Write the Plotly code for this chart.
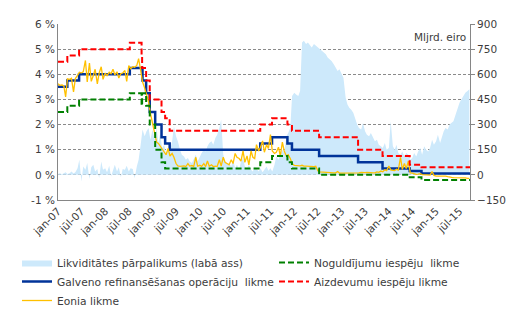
import pandas as pd
import plotly.graph_objects as go

# ---------------- data ----------------
# Policy rates (step series, %)
mro_dates = ["2007-01-01", "2007-03-14", "2007-06-13", "2008-07-09", "2008-10-15", "2008-11-12",
             "2008-12-10", "2009-01-21", "2009-03-11", "2009-04-08", "2009-05-13", "2011-04-13",
             "2011-07-13", "2011-11-09", "2011-12-14", "2012-07-11", "2013-05-08", "2013-11-13",
             "2014-06-11", "2014-09-10", "2015-09-20"]
mro_rate = [3.50, 3.75, 4.00, 4.25, 3.75, 3.25, 2.50, 2.00, 1.50, 1.25, 1.00, 1.25,
            1.50, 1.25, 1.00, 0.75, 0.50, 0.25, 0.15, 0.05, 0.05]

dep_dates = ["2007-01-01", "2007-03-14", "2007-06-13", "2008-07-09", "2008-10-08", "2008-10-12",
             "2008-11-12", "2008-12-10", "2009-01-21", "2009-03-11", "2009-04-08", "2011-04-13",
             "2011-07-13", "2011-11-09", "2011-12-14", "2012-07-11", "2014-06-11", "2014-09-10",
             "2015-09-20"]
dep_rate = [2.50, 2.75, 3.00, 3.25, 2.75, 3.25, 2.75, 2.00, 1.00, 0.50, 0.25, 0.50,
            0.75, 0.50, 0.25, 0.00, -0.10, -0.20, -0.20]

lend_dates = ["2007-01-01", "2007-03-14", "2007-06-13", "2008-07-09", "2008-10-08", "2008-10-12",
              "2008-11-12", "2008-12-10", "2009-03-11", "2009-04-08", "2009-05-13", "2011-04-13",
              "2011-07-13", "2011-11-09", "2011-12-14", "2012-07-11", "2013-05-08", "2013-11-13",
              "2014-06-11", "2014-09-10", "2015-09-20"]
lend_rate = [4.50, 4.75, 5.00, 5.25, 4.75, 4.25, 3.75, 3.00, 2.50, 2.25, 1.75, 2.00,
             2.25, 2.00, 1.75, 1.50, 1.00, 0.75, 0.40, 0.30, 0.30]

# Eonia (%), two readings per month from Jan 2007 to Sep 2015
eonia = [
    # 2007
    3.62, 3.56, 3.58, 3.54, 3.10, 3.82, 3.80, 3.84, 3.30, 3.83, 3.96, 4.08,
    4.06, 4.10, 4.55, 3.70, 4.45, 3.72, 3.95, 4.20, 3.62, 4.05, 4.30, 3.80,
    # 2008
    4.05, 3.95, 4.08, 4.02, 4.20, 3.98, 4.10, 3.85, 4.03, 4.05, 4.15, 3.72,
    4.35, 4.22, 4.30, 4.28, 4.35, 4.62, 4.15, 3.70, 3.45, 3.20, 2.90, 2.45,
    # 2009
    2.05, 1.80, 1.30, 1.25, 1.15, 1.05, 0.90, 0.80, 1.05, 0.75, 0.85, 0.70,
    0.45, 0.36, 0.34, 0.35, 0.36, 0.33, 0.45, 0.35, 0.37, 0.34, 0.70, 0.35,
    # 2010
    0.38, 0.34, 0.45, 0.33, 0.55, 0.34, 0.40, 0.33, 0.35, 0.33, 0.60, 0.35,
    0.70, 0.50, 0.45, 0.40, 0.60, 0.45, 0.85, 0.70, 0.65, 0.55, 0.95, 0.50,
    # 2011
    0.75, 0.40, 0.95, 0.70, 0.65, 1.20, 0.95, 1.10, 1.35, 0.90, 1.20, 1.05,
    1.60, 0.95, 0.85, 0.90, 1.10, 0.75, 1.30, 0.95, 0.75, 0.80, 0.65, 0.45,
    # 2012
    0.38, 0.37, 0.37, 0.36, 0.38, 0.35, 0.35, 0.34, 0.34, 0.33, 0.33, 0.34,
    0.16, 0.12, 0.11, 0.11, 0.10, 0.10, 0.09, 0.09, 0.08, 0.08, 0.13, 0.07,
    # 2013
    0.07, 0.07, 0.08, 0.07, 0.07, 0.08, 0.09, 0.08, 0.08, 0.08, 0.10, 0.09,
    0.09, 0.10, 0.08, 0.09, 0.08, 0.08, 0.12, 0.10, 0.15, 0.12, 0.20, 0.17,
    # 2014
    0.35, 0.20, 0.18, 0.17, 0.22, 0.19, 0.70, 0.22, 0.45, 0.25, 0.55, 0.08,
    0.07, 0.04, 0.02, 0.03, 0.05, 0.01, 0.00, 0.00, -0.01, -0.01, 0.13, -0.02,
    # 2015
    -0.05, -0.05, -0.04, -0.04, -0.05, -0.05, -0.07, -0.07, -0.10, -0.11, -0.11, -0.12,
    -0.12, -0.12, -0.12, -0.12, -0.14, -0.14,
]

# Excess liquidity (bn EUR), two readings per month from Jan 2007 to Sep 2015
liquidity = [
    # 2007
    5, 10, 3, 8, 15, 5, 10, 20, 8, 15, 40, 90,
    -40, 50, 30, 70, -25, 45, 60, 20, 35, -20, 80, 30,
    # 2008
    40, 15, 55, -10, 30, 60, 20, 45, -15, 35, 30, 55,
    20, 40, 35, -20, 50, 90, 180, 270, 230, 260, 280, 210,
    # 2009
    270, 210, 280, 190, 250, 160, 180, 120, 150, 140, 200, 290,
    230, 200, 150, 120, 110, 90, 100, 80, 70, 90, 120, 80,
    # 2010
    110, 130, 150, 140, 170, 190, 200, 180, 220, 240, 280, 330,
    120, 80, 60, 70, 50, 90, 40, 60, 30, 80, 100, 50,
    # 2011
    40, 60, 30, 20, 50, 35, 20, 40, 15, 30, 50, 25,
    40, 20, 60, 110, 90, 120, 150, 130, 230, 250, 280, 470,
    # 2012
    490, 480, 470, 500, 790, 800, 780, 790, 770, 760, 780, 770,
    760, 750, 740, 730, 720, 700, 690, 680, 660, 640, 620, 630,
    # 2013
    600, 580, 460, 420, 400, 390, 370, 330, 300, 280, 270, 310,
    260, 240, 230, 250, 220, 200, 210, 180, 170, 160, 190, 150,
    # 2014
    160, 320, 170, 150, 180, 130, 120, 140, 110, 130, 120, 90,
    100, 130, 110, 140, 160, 120, 170, 150, 140, 160, 210, 180,
    # 2015
    200, 240, 190, 230, 260, 280, 270, 300, 310, 320, 360, 400,
    430, 450, 470, 490, 500, 510,
]

tick_dates = ["2007-01-01", "2007-07-01", "2008-01-01", "2008-07-01", "2009-01-01", "2009-07-01",
              "2010-01-01", "2010-07-01", "2011-01-01", "2011-07-01", "2012-01-01", "2012-07-01",
              "2013-01-01", "2013-07-01", "2014-01-01", "2014-07-01", "2015-01-01", "2015-07-01"]
tick_labels = ["jan-07", "jūl-07", "jan-08", "jūl-08", "jan-09", "jūl-09", "jan-10", "jūl-10",
               "jan-11", "jūl-11", "jan-12", "jūl-12", "jan-13", "jūl-13", "jan-14", "jūl-14",
               "jan-15", "jūl-15"]

pct_ticks = [-1, 0, 1, 2, 3, 4, 5, 6]
pct_labels = ["-1 %", "0 %", "1 %", "2 %", "3 %", "4 %", "5 %", "6 %"]
bn_ticks = [-150, 0, 150, 300, 450, 600, 750, 900]

semi_dates = pd.date_range("2007-01-01", periods=len(eonia), freq="SMS")
liq_dates = pd.date_range("2007-01-01", periods=len(liquidity), freq="SMS")

# ---------------- figure ----------------
FONT = "DejaVu Sans"
TXT = "#3c3c3c"
AX = "#868686"
X_RANGE = ["2007-01-01", "2015-09-20"]

fig = go.Figure()

fig.add_trace(go.Scatter(
    x=liq_dates, y=liquidity, mode="lines", fill="tozeroy",
    fillcolor="#cde9fb", line=dict(width=0, color="#cde9fb"),
    name="Likviditātes pārpalikums (labā ass)", xaxis="x", yaxis="y", legend="legend"))

fig.add_trace(go.Scatter(
    x=mro_dates, y=mro_rate, mode="lines", line=dict(color="#003399", width=2.5, shape="hv"),
    name="Galveno refinansēšanas operāciju\u00a0 likme", xaxis="x", yaxis="y2", legend="legend"))

fig.add_trace(go.Scatter(
    x=semi_dates, y=eonia, mode="lines", line=dict(color="#ffc000", width=1.3),
    name="Eonia likme", xaxis="x", yaxis="y2", legend="legend"))

fig.add_trace(go.Scatter(
    x=dep_dates, y=dep_rate, mode="lines",
    line=dict(color="#008000", width=2, shape="hv", dash="6px,3px"),
    name="Noguldījumu iespēju\u00a0 likme", xaxis="x", yaxis="y2", legend="legend2"))

fig.add_trace(go.Scatter(
    x=lend_dates, y=lend_rate, mode="lines",
    line=dict(color="#ff0000", width=2, shape="hv", dash="6px,3px"),
    name="Aizdevumu iespēju likme", xaxis="x", yaxis="y2", legend="legend2"))

LEG_Y = (311 - 248) / 311

fig.update_layout(
    width=526, height=311,
    margin=dict(l=58, r=56, t=24, b=111, autoexpand=False),
    paper_bgcolor="white", plot_bgcolor="white",
    font=dict(family=FONT, size=10, color=TXT),
    xaxis=dict(
        type="date", range=X_RANGE, tickvals=tick_dates, ticktext=tick_labels,
        tickangle=-45, showline=True, linecolor=AX, linewidth=1, showgrid=False,
        zeroline=False, ticks="", automargin=False, tickfont=dict(size=10.5, color=TXT)),
    xaxis2=dict(
        type="date", range=X_RANGE, overlaying="x", anchor="free", position=1 / 7,
        tickvals=tick_dates, showticklabels=False, ticks="outside", ticklen=4,
        tickcolor=AX, showline=True, linecolor=AX, linewidth=1, showgrid=False,
        zeroline=False, automargin=False),
    yaxis=dict(
        side="right", range=[-150, 900], tickvals=bn_ticks, showline=True,
        linecolor=AX, linewidth=1, ticks="outside", ticklen=4, tickcolor=AX,
        showgrid=True, gridcolor="#8a8a8a", griddash="3px,2px", gridwidth=1,
        zeroline=False, automargin=False, tickfont=dict(size=10.5, color=TXT)),
    yaxis2=dict(
        overlaying="y", side="left", anchor="x", range=[-1, 6], tickvals=pct_ticks,
        ticktext=pct_labels, showline=True, linecolor=AX, linewidth=1, ticks="",
        showgrid=False, zeroline=False, automargin=False,
        tickfont=dict(size=10.5, color=TXT)),
    legend=dict(
        xref="container", yref="container",
        x=17 / 526, xanchor="left", y=LEG_Y, yanchor="top",
        bgcolor="rgba(0,0,0,0)", font=dict(size=10.7, color=TXT),
        traceorder="normal", itemwidth=30, tracegroupgap=0),
    legend2=dict(
        xref="container", yref="container",
        x=274 / 526, xanchor="left", y=LEG_Y, yanchor="top",
        bgcolor="rgba(0,0,0,0)", font=dict(size=10.7, color=TXT),
        traceorder="normal", itemwidth=30, tracegroupgap=0),
    showlegend=True,
    annotations=[dict(
        text="Mljrd. eiro", xref="paper", yref="paper", x=1, y=1,
        xanchor="right", yanchor="top", xshift=-2, yshift=-5, showarrow=False,
        font=dict(size=10.5, color=TXT))],
)

fig.write_html("out.html")
